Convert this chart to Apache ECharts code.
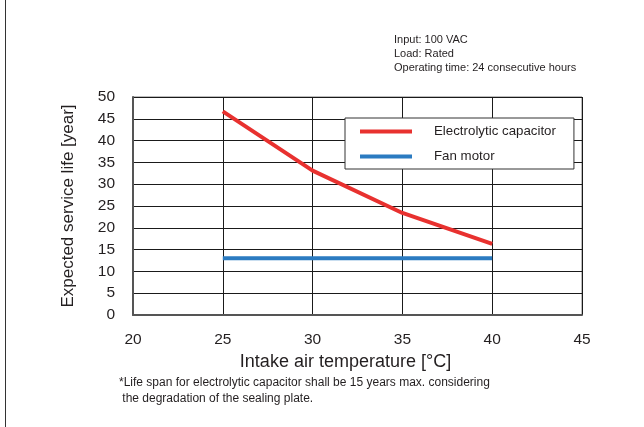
<!DOCTYPE html>
<html>
<head>
<meta charset="utf-8">
<style>
html,body{margin:0;padding:0;background:#fff;}
#chart{width:644px;height:427px;}
</style>
<script src="https://cdn.jsdelivr.net/npm/echarts@6/dist/echarts.min.js"></script>
</head>
<body>
<div id="chart"></div>
<script>
const temperatures = [25, 30, 35, 40];
const capacitorLife = [46.7, 33.1, 23.4, 16.3];
const fanLife = [13, 13, 13, 13];
const seriesNames = ['Electrolytic capacitor', 'Fan motor'];
const xTicks = {min: 20, max: 45, interval: 5};
const yTicks = {min: 0, max: 50, interval: 5};
const conditions = ['Input: 100 VAC', 'Load: Rated', 'Operating time: 24 consecutive hours'];
const footnote = ['*Life span for electrolytic capacitor shall be 15 years max. considering', ' the degradation of the sealing plate.'];

const FONT = '"Liberation Sans", Arial, sans-serif';
const TXT = '#231f20';
const chart = echarts.init(document.getElementById('chart'), null, {renderer: 'canvas'});

const zip = (xs, ys) => xs.map((x, i) => [x, ys[i]]);

chart.setOption({
  animation: false,
  backgroundColor: '#fff',
  textStyle: {fontFamily: FONT, color: TXT},
  grid: {left: 133, right: 62, top: 97, bottom: 112, show: true, borderColor: '#7a7a7a', borderWidth: 1, backgroundColor: 'transparent'},
  xAxis: {
    type: 'value', min: xTicks.min, max: xTicks.max, interval: xTicks.interval,
    name: 'Intake air temperature [°C]', nameLocation: 'middle', nameGap: 34,
    nameTextStyle: {fontSize: 18, color: TXT, fontFamily: FONT, padding: [0, 24, 0, 0]},
    axisLine: {show: true, lineStyle: {color: '#555', width: 2}},
    axisTick: {show: false},
    axisLabel: {fontSize: 15.5, color: TXT, margin: 17, fontFamily: FONT},
    splitLine: {show: true, lineStyle: {color: '#1a1a1a', width: 1}}
  },
  yAxis: {
    type: 'value', min: yTicks.min, max: yTicks.max, interval: yTicks.interval,
    name: 'Expected service life [year]', nameLocation: 'middle', nameGap: 56,
    nameTextStyle: {fontSize: 17, color: TXT, fontFamily: FONT},
    axisLine: {show: true, lineStyle: {color: '#555', width: 2}},
    axisTick: {show: false},
    axisLabel: {fontSize: 15.5, color: TXT, margin: 18, fontFamily: FONT},
    splitLine: {show: true, lineStyle: {color: '#1a1a1a', width: 1}}
  },
  legend: {
    orient: 'vertical', left: 345, top: 118,
    backgroundColor: '#fff', borderColor: '#333', borderWidth: 1,
    padding: [7, 18, 6, 15],
    itemWidth: 52, itemHeight: 4, itemGap: 12,
    icon: 'rect',
    textStyle: {fontSize: 13.3, color: TXT, fontFamily: FONT, padding: [0, 0, 0, 17]},
    data: seriesNames
  },
  series: [
    {name: seriesNames[0], type: 'line', data: zip(temperatures, capacitorLife), symbol: 'none',
     lineStyle: {color: '#e8312f', width: 4}, itemStyle: {color: '#e8312f'}},
    {name: seriesNames[1], type: 'line', data: zip(temperatures, fanLife), symbol: 'none',
     lineStyle: {color: '#2b7bc1', width: 4}, itemStyle: {color: '#2b7bc1'}}
  ],
  graphic: [
    {type: 'line', shape: {x1: 5.5, y1: 0, x2: 5.5, y2: 427}, style: {stroke: '#333', lineWidth: 1}},
    ...conditions.map((t, i) => ({type: 'text', left: 394, top: 34 + i * 14,
      style: {text: t, font: '11px ' + FONT, fill: TXT}})),
    ...footnote.map((t, i) => ({type: 'text', left: 119, top: 377 + i * 16,
      style: {text: t, font: '12px ' + FONT, fill: TXT}}))
  ]
});
</script>
</body>
</html>
